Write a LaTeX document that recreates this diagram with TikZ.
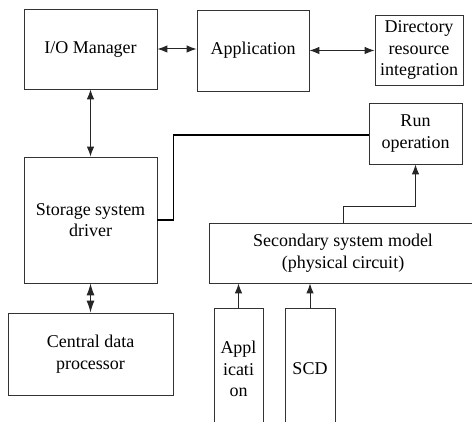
\documentclass[tikz,border=0pt]{standalone}
\usepackage{fontspec}
\setmainfont{Liberation Serif}
\usetikzlibrary{calc,arrows.meta}

\tikzset{
	blk/.style={draw=black!80, line width=0.8pt, inner sep=0pt, align=center,
		font=\rmfamily\fontsize{18}{21.5}\selectfont},
	link/.style={line width=1pt, black!85}
}

\begin{document}
\begin{tikzpicture}[>={Latex[length=10pt,width=7.5pt]}, x=1pt, y=-1pt]
	% fix the page and cut what runs off its edges
	\path[use as bounding box, clip] (0,0) rectangle (472,422);

	% top row of blocks
	\node[blk, minimum width=133, minimum height=80] (iom) at (90.5,49) {I/O Manager};
	\node[blk, minimum width=112, minimum height=81] (app) at (253,50.5) {Application};
	\node[blk, minimum width=88, minimum height=70] (dir) at (419,50) {Directory\\resource\\integration};

	% right hand blocks
	\node[blk, minimum width=93, minimum height=61] (run) at (415.5,133.5) {Run\\operation};
	\node[blk, minimum width=268, minimum height=60] (ssm) at (343,253) {Secondary system model\\(physical circuit)};

	% left column
	\node[blk, minimum width=133, minimum height=126] (ssd) at (90.5,220) {Storage system\\driver};
	\node[blk, minimum width=165, minimum height=82] (cdp) at (90.5,354) {Central data\\processor};

	% the two inputs at the bottom, open below
	\node[blk, minimum width=49, minimum height=122] (inapp) at (238.5,369) {Appl\\icati\\on};
	\node[blk, minimum width=50, minimum height=122] (scd) at (310,369) {SCD};

	% arrows of the top row
	\draw[link,<->] (iom.east) -- (iom.east -| app.west);
	\draw[link,<->] (app.east) -- (app.east -| dir.west);

	% left column arrows
	\draw[link,<->] (iom) -- (ssd);
	\draw[link,{Latex[length=12pt,width=8pt]}-{Latex[length=12pt,width=8pt]}] (ssd) -- (cdp);

	% driver line over to run operation
	\draw[line width=1.6pt] (ssd.east) -- ++(16,0) |- ($(run.west)+(0,1.5)$);

	% secondary model up into run operation
	\draw[link,->] (ssm.north) -- ++(0,-16) -| (run.south);

	% inputs feeding the secondary model
	\draw[link,->] (inapp) -- (inapp |- ssm.south);
	\draw[link,->] (scd) -- (scd |- ssm.south);

\end{tikzpicture}
\end{document}
